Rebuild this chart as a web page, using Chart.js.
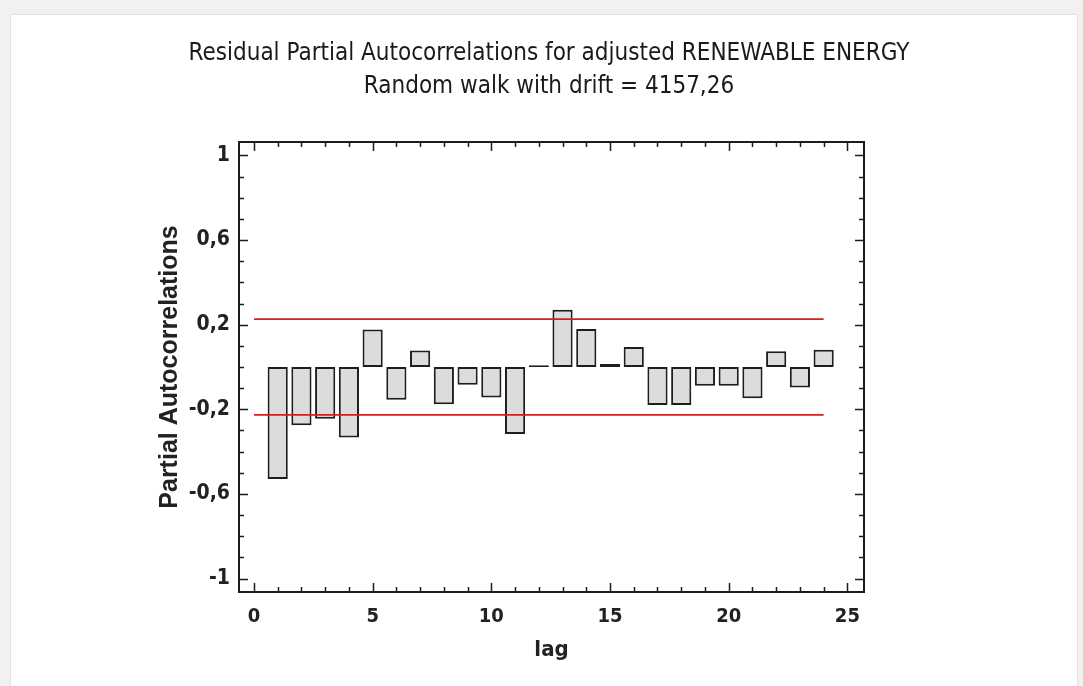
<!DOCTYPE html>
<html>
<head>
<meta charset="utf-8">
<script src="https://cdn.jsdelivr.net/npm/chart.js@4.4.1/dist/chart.umd.min.js"></script>
<style>
  html, body { margin: 0; padding: 0; background: #f1f1f1; }
  #panel { position: absolute; left: 10px; top: 14px; width: 1066px; height: 680px; background: #fff; border: 1px solid #e2e2e2; }
  #pacfChart { position: absolute; left: 0; top: 0; }
</style>
</head>
<body>
<div id="panel"></div>
<canvas id="pacfChart" width="1083" height="686"></canvas>
<script>
// residual partial autocorrelations by lag
const lags = [1, 2, 3, 4, 5, 6, 7, 8, 9, 10, 11, 12, 13, 14, 15, 16, 17, 18, 19, 20, 21, 22, 23, 24];
const pacf = [-0.529, -0.275, -0.245, -0.333, 0.177, -0.155, 0.078, -0.176, -0.084, -0.144, -0.316, 0.008,
              0.27, 0.179, 0.014, 0.095, -0.18, -0.18, -0.088, -0.088, -0.148, 0.074, -0.097, 0.082];

// 95% probability limits
const limitLags = [0, 24];
const upperLimit = 0.226;
const lowerLimit = -0.226;

const xTicks = [0, 5, 10, 15, 20, 25];
const yTicks = [-1, -0.6, -0.2, 0.2, 0.6, 1];

const narrow = "'Liberation Sans Narrow', 'Arial Narrow', 'DejaVu Sans Condensed', sans-serif";
const sans = "'Liberation Sans', Arial, sans-serif";

// box around the plot with inward tick marks on all four sides
const frameTicks = {
  id: 'frameTicks',
  afterDatasetsDraw(chart) {
    const { ctx, chartArea: a, scales: { x, y } } = chart;
    ctx.save();
    ctx.strokeStyle = '#1c1c1c';
    ctx.lineWidth = 1.5;
    ctx.beginPath();
    for (let v = 0; v <= 25; v++) {
      const px = Math.round(x.getPixelForValue(v)) + 0.5;
      const len = v % 5 === 0 ? 9 : 5;
      ctx.moveTo(px, a.bottom); ctx.lineTo(px, a.bottom - len);
      ctx.moveTo(px, a.top); ctx.lineTo(px, a.top + len);
    }
    for (let i = -10; i <= 10; i++) {
      const py = Math.round(y.getPixelForValue(i / 10)) + 0.5;
      const len = (i + 10) % 4 === 0 ? 9 : 5;
      ctx.moveTo(a.left, py); ctx.lineTo(a.left + len, py);
      ctx.moveTo(a.right, py); ctx.lineTo(a.right - len, py);
    }
    ctx.stroke();
    ctx.lineWidth = 2;
    ctx.strokeRect(a.left, a.top, a.right - a.left, a.bottom - a.top);
    ctx.restore();
  }
};

new Chart(document.getElementById('pacfChart').getContext('2d'), {
  type: 'bar',
  data: {
    datasets: [
      {
        type: 'bar',
        data: lags.map((l, i) => ({ x: l, y: pacf[i] })),
        backgroundColor: '#dcdcdc',
        borderColor: '#1e1e1e',
        borderWidth: 2,
        borderSkipped: false,
        barPercentage: 1,
        categoryPercentage: 0.85,
        order: 2
      },
      {
        type: 'line',
        data: limitLags.map(l => ({ x: l, y: upperLimit })),
        borderColor: '#d21f1f',
        borderWidth: 1.8,
        pointRadius: 0,
        order: 1
      },
      {
        type: 'line',
        data: limitLags.map(l => ({ x: l, y: lowerLimit })),
        borderColor: '#d21f1f',
        borderWidth: 1.8,
        pointRadius: 0,
        order: 1
      }
    ]
  },
  options: {
    responsive: false,
    animation: false,
    layout: { padding: { top: 0, left: 15, right: 0, bottom: 0 } },
    plugins: {
      legend: { display: false },
      tooltip: { enabled: false },
      title: {
        display: true,
        text: ['Residual Partial Autocorrelations for adjusted RENEWABLE ENERGY', 'Random walk with drift = 4157,26'],
        color: '#1a1a1a',
        font: { family: narrow, size: 24, weight: 'normal', lineHeight: 1.375 },
        padding: { top: 37.5, bottom: 38.5 }
      }
    },
    scales: {
      x: {
        type: 'linear',
        offset: false,
        min: -0.63,
        max: 25.7,
        afterBuildTicks: s => { s.ticks = xTicks.map(v => ({ value: v })); },
        afterFit: s => { s.height = 94; },
        grid: { display: false, drawTicks: false },
        border: { display: false },
        ticks: { color: '#222', font: { family: narrow, size: 20, weight: 'bold' }, padding: 13, maxRotation: 0 },
        title: { display: true, text: 'lag', color: '#222', font: { family: narrow, size: 22, weight: 'bold' }, padding: { bottom: 23 } }
      },
      y: {
        min: -1.063,
        max: 1.063,
        afterBuildTicks: s => { s.ticks = yTicks.map(v => ({ value: v })); },
        afterFit: s => { s.width = 224; },
        grid: { display: false, drawTicks: false },
        border: { display: false },
        ticks: {
          color: '#222',
          font: { family: narrow, size: 21, weight: 'bold' },
          padding: 9,
          callback: v => String(v).replace('.', ',')
        },
        title: { display: true, text: 'Partial Autocorrelations', color: '#222', font: { family: sans, size: 25, weight: 'bold' }, padding: { top: 140 } }
      },
      // empty right-hand strip so the plot box ends where the title area does not
      gutter: {
        position: 'right',
        display: true,
        afterFit: s => { s.width = 219; },
        grid: { display: false, drawTicks: false },
        border: { display: false },
        ticks: { display: false }
      }
    }
  },
  plugins: [frameTicks]
});
</script>
</body>
</html>
